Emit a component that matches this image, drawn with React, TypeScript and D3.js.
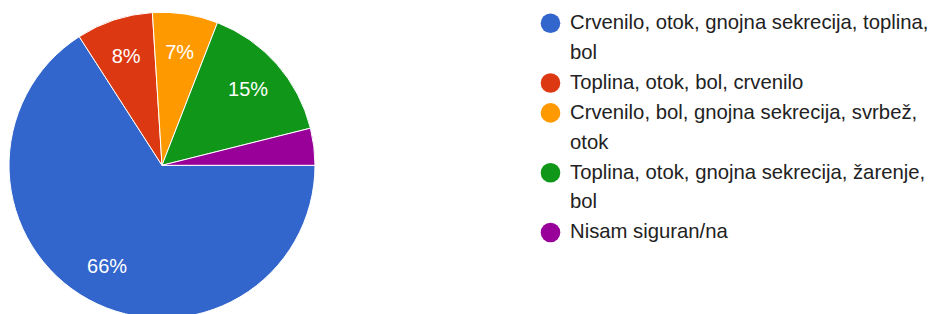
import * as d3 from 'd3';
import React, { FC, useEffect, useRef } from 'react';

// answers (share of respondents, %)
const categories = [
  'Crvenilo, otok, gnojna sekrecija, toplina, bol',
  'Toplina, otok, bol, crvenilo',
  'Crvenilo, bol, gnojna sekrecija, svrbež, otok',
  'Toplina, otok, gnojna sekrecija, žarenje, bol',
  'Nisam siguran/na'
];
const values = [65.9, 8.1, 6.9, 15.2, 3.9];
const colors = ['#3366cc', '#dc3912', '#ff9900', '#109618', '#990099'];
// how the legend text wraps
const legendLines = [
  ['Crvenilo, otok, gnojna sekrecija, toplina,', 'bol'],
  ['Toplina, otok, bol, crvenilo'],
  ['Crvenilo, bol, gnojna sekrecija, svrbež,', 'otok'],
  ['Toplina, otok, gnojna sekrecija, žarenje,', 'bol'],
  ['Nisam siguran/na']
];

const width = 931;
const height = 314;
const font = '"Liberation Sans", Arial, sans-serif';

const PieChart: FC = (): JSX.Element => {
  const ref = useRef<SVGSVGElement>(null);

  useEffect(() => {
    const svg = d3.select(ref.current);
    svg.selectAll('*').remove();

    const cx = 162;
    const cy = 165.3;
    const radius = 153;

    const data = categories.map((c, i) => ({ name: c, value: values[i], color: colors[i] }));

    const pie = d3
      .pie<{ name: string; value: number; color: string }>()
      .sort(null)
      .value((d) => d.value)
      .startAngle(Math.PI / 2)
      .endAngle(Math.PI / 2 + 2 * Math.PI);

    const arc = d3.arc<any>().innerRadius(0).outerRadius(radius);
    const labelArc = d3.arc<any>().innerRadius(radius * 0.75).outerRadius(radius * 0.75);

    const g = svg.append('g').attr('transform', `translate(${cx}, ${cy})`);
    const arcs = pie(data);

    g.selectAll('path')
      .data(arcs)
      .enter()
      .append('path')
      .attr('d', arc)
      .attr('fill', (d) => d.data.color)
      .attr('stroke', '#fff')
      .attr('stroke-width', 1);

    g.selectAll('text')
      .data(arcs.filter((d) => d.data.value >= 5))
      .enter()
      .append('text')
      .attr('transform', (d) => `translate(${labelArc.centroid(d)})`)
      .attr('text-anchor', 'middle')
      .attr('dominant-baseline', 'central')
      .attr('font-family', font)
      .attr('font-size', 20)
      .attr('fill', '#fff')
      .text((d) => `${Math.round(d.data.value)}%`);

    // legend
    const lineStep = 29.9;
    let line = 0;
    const legend = svg.append('g');
    legendLines.forEach((lines, i) => {
      const baseline = 29 + lineStep * line;
      legend
        .append('circle')
        .attr('cx', 550.5)
        .attr('cy', baseline - 5.8)
        .attr('r', 9.8)
        .attr('fill', colors[i]);
      lines.forEach((txt, j) => {
        legend
          .append('text')
          .attr('x', 570)
          .attr('y', baseline + lineStep * j)
          .attr('font-family', font)
          .attr('font-size', 20.3)
          .attr('fill', '#222')
          .text(txt);
      });
      line += lines.length;
    });
  }, []);

  return <svg ref={ref} width={width} height={height} style={{ display: 'block' }} />;
};

const App: FC = () => (
  <div style={{ position: 'absolute', left: 0, top: 0, width, height, overflow: 'hidden', background: '#fff' }}>
    <PieChart />
  </div>
);

export default App;
